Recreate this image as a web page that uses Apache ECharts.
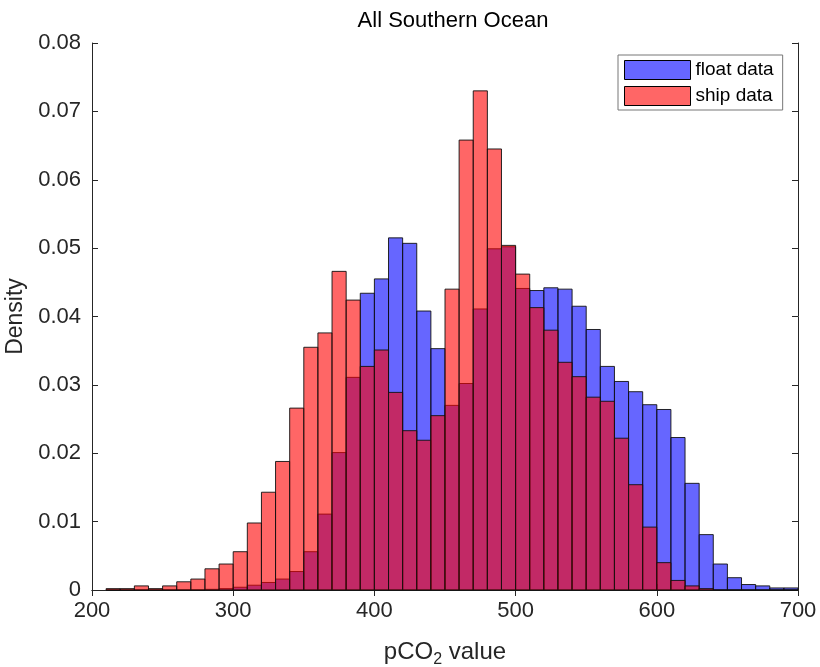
<!DOCTYPE html>
<html>
<head>
<meta charset="utf-8">
<script src="https://cdn.jsdelivr.net/npm/echarts@6/dist/echarts.min.js"></script>
<style>
  html, body { margin: 0; padding: 0; background: #fff; }
  #chart { width: 820px; height: 667px; }
</style>
</head>
<body>
<div id="chart"></div>
<script>
// 直方图分箱（左边界，宽 10）
const binStarts = [210, 220, 230, 240, 250, 260, 270, 280, 290, 300,
  310, 320, 330, 340, 350, 360, 370, 380, 390, 400,
  410, 420, 430, 440, 450, 460, 470, 480, 490, 500,
  510, 520, 530, 540, 550, 560, 570, 580, 590, 600,
  610, 620, 630, 640, 650, 660, 670, 680, 690];
const binWidth = 10;

const floatDensity = [0, 0, 0, 0, 0, 0, 0, 0.0001, 0.0002, 0.0004,
  0.0007, 0.0011, 0.0016, 0.0027, 0.0056, 0.0111, 0.0201, 0.0311, 0.0434, 0.0455,
  0.0515, 0.0507, 0.0408, 0.0353, 0.0270, 0.0302, 0.0411, 0.0499, 0.0502, 0.0441,
  0.0438, 0.0442, 0.0440, 0.0415, 0.0381, 0.0327, 0.0305, 0.0290, 0.0271, 0.0264,
  0.0223, 0.0156, 0.0081, 0.0038, 0.0018, 0.0008, 0.0006, 0.0003, 0.0003];

const shipDensity = [0.0002, 0.0002, 0.0006, 0.0002, 0.0006, 0.0012, 0.0016, 0.0031, 0.0038, 0.0056,
  0.0098, 0.0143, 0.0188, 0.0266, 0.0355, 0.0376, 0.0466, 0.0424, 0.0327, 0.0351,
  0.0289, 0.0233, 0.0219, 0.0255, 0.0440, 0.0658, 0.0730, 0.0645, 0.0504, 0.0462,
  0.0413, 0.0380, 0.0333, 0.0312, 0.0282, 0.0276, 0.0222, 0.0154, 0.0092, 0.0040,
  0.0014, 0.0006, 0.0002, 0, 0, 0, 0, 0, 0];

const xTicks = [200, 300, 400, 500, 600, 700];
const yTicks = [0, 0.01, 0.02, 0.03, 0.04, 0.05, 0.06, 0.07, 0.08];

const FONT = '"Liberation Sans", Arial, sans-serif';
const INK = '#262626';
const FLOAT_FILL = 'rgba(0,0,255,0.6)';
const SHIP_FILL = 'rgba(255,0,0,0.6)';

const toBins = vals => binStarts.map((s, i) => [s, s + binWidth, vals[i]]);

/** 每个分箱画一个矩形（经由坐标轴换算） */
function histItem(fill) {
  return (params, api) => {
    const p0 = api.coord([api.value(0), api.value(2)]);
    const p1 = api.coord([api.value(1), 0]);
    return {
      type: 'rect',
      shape: { x: p0[0], y: p0[1], width: p1[0] - p0[0], height: p1[1] - p0[1] },
      style: { fill: fill, stroke: '#111', lineWidth: 0.9 }
    };
  };
}

const axisCommon = {
  axisLine: { show: true, lineStyle: { color: INK, width: 1 } },
  axisTick: { show: true, inside: true, length: 6, lineStyle: { color: INK } },
  splitLine: { show: false }
};

const chart = echarts.init(document.getElementById('chart'));
chart.setOption({
  animation: false,
  backgroundColor: '#fff',
  title: {
    text: 'All Southern Ocean', left: 448, top: 5, textAlign: 'center',
    textStyle: { fontFamily: FONT, fontSize: 22, fontWeight: 'normal', color: '#000' }
  },
  legend: {
    orient: 'vertical', left: 618, top: 55, padding: [5, 9, 4, 6], itemGap: 6,
    itemWidth: 66, itemHeight: 19, icon: 'rect',
    backgroundColor: '#fff', borderColor: '#777', borderWidth: 1, borderRadius: 0,
    textStyle: { fontFamily: FONT, fontSize: 19, color: '#000' },
    itemStyle: { borderColor: '#000', borderWidth: 1 },
    data: ['float data', 'ship data']
  },
  grid: { left: 92, top: 43, width: 706, height: 547, containLabel: false, outerBoundsMode: 'none' },
  xAxis: [
    Object.assign({
      type: 'value', min: xTicks[0], max: xTicks[xTicks.length - 1], interval: 100,
      axisLabel: { fontFamily: FONT, fontSize: 22, color: INK, margin: 10 },
      name: '{a|pCO}{s|2}{a| value}', nameLocation: 'middle', nameGap: 46,
      nameTextStyle: {
        rich: {
          a: { fontFamily: FONT, fontSize: 24, color: INK },
          s: { fontFamily: FONT, fontSize: 16, color: INK, padding: [16, 0, 0, 0] }
        }
      }
    }, axisCommon),
    Object.assign({
      type: 'value', position: 'top', min: xTicks[0], max: xTicks[xTicks.length - 1], interval: 100,
      axisLabel: { show: false }
    }, axisCommon)
  ],
  yAxis: [
    Object.assign({
      type: 'value', min: yTicks[0], max: yTicks[yTicks.length - 1], interval: 0.01,
      axisLabel: { fontFamily: FONT, fontSize: 22, color: INK, margin: 11,
        formatter: v => (v === 0 ? '0' : v.toFixed(2)) },
      name: 'Density', nameLocation: 'middle', nameGap: 63, nameRotate: 90,
      nameTextStyle: { fontFamily: FONT, fontSize: 23, color: INK }
    }, axisCommon),
    Object.assign({
      type: 'value', position: 'right', min: yTicks[0], max: yTicks[yTicks.length - 1], interval: 0.01,
      axisLabel: { show: false }
    }, axisCommon)
  ],
  series: [
    {
      name: 'float data', type: 'custom', renderItem: histItem(FLOAT_FILL),
      itemStyle: { color: FLOAT_FILL }, encode: { x: [0, 1], y: 2 },
      data: toBins(floatDensity), z: 2
    },
    {
      name: 'ship data', type: 'custom', renderItem: histItem(SHIP_FILL),
      itemStyle: { color: SHIP_FILL }, encode: { x: [0, 1], y: 2 },
      data: toBins(shipDensity), z: 3
    }
  ]
});
</script>
</body>
</html>
